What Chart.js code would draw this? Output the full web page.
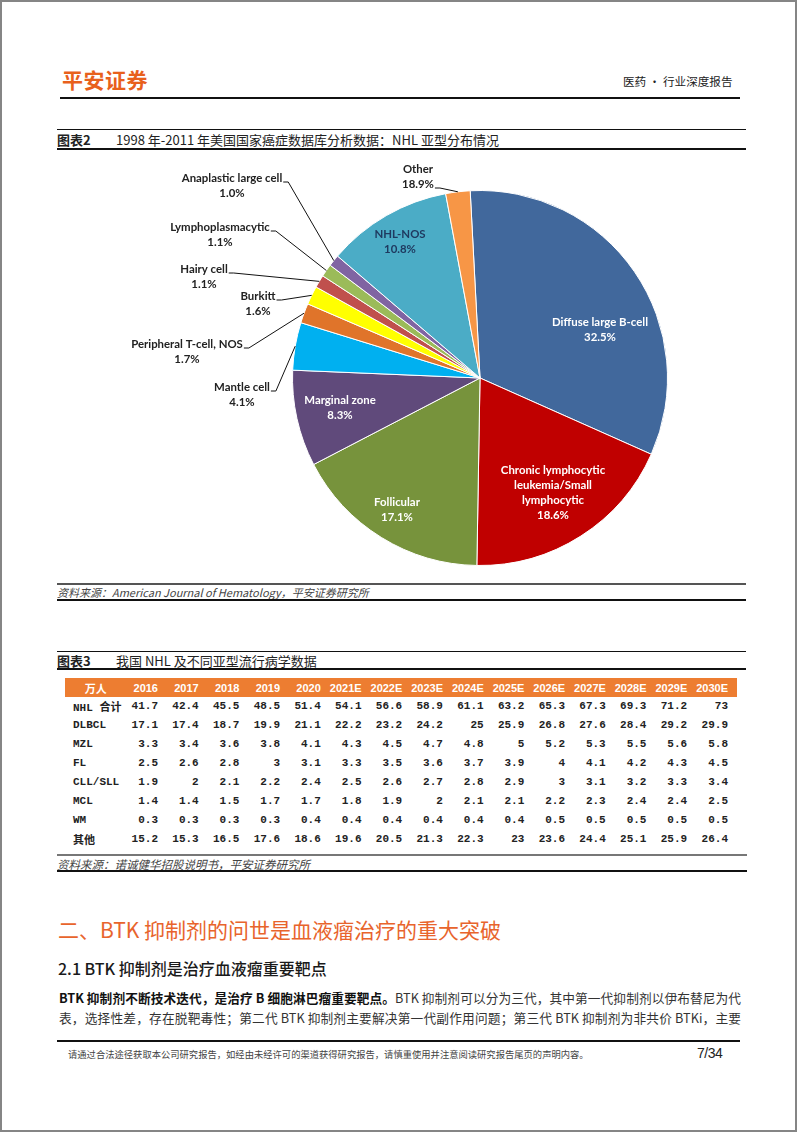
<!DOCTYPE html>
<html lang="zh-CN">
<head>
	<meta charset="utf-8">
	<title>医药·行业深度报告</title>
	<script src="https://cdn.jsdelivr.net/npm/chart.js@4.4.0/dist/chart.umd.min.js"></script>
	<style type="text/css">
		body { margin: 0; background: #fff; font-family: "Noto Sans CJK SC", "Noto Sans", sans-serif; color: #222; }
		.page { position: relative; width: 802px; height: 1133px; overflow: hidden; }
		.abs { position: absolute; white-space: nowrap; }
		.frame { left: 0; top: 0; width: 797px; height: 1132px; border: 2px solid #858585; box-sizing: border-box; }
		.rule { position: absolute; background: #111; }
		.logo { left: 62px; top: 64px; font-size: 21px; line-height: 30px; font-weight: 700; color: #e8601c; letter-spacing: 0.5px; }
		.doc-type { left: 623px; top: 72px; font-size: 11.6px; line-height: 18px; }
		.fig-title { left: 57px; font-size: 13px; line-height: 18px; }
		.fig-title b { display: inline-block; width: 59px; font-weight: 700; }
		.source { left: 57px; font-size: 11px; line-height: 16px; font-style: italic; color: #444; }
		#chart-box { position: absolute; left: 57px; top: 152px; width: 688px; height: 428px; }
		table.nhl { position: absolute; left: 65px; top: 678px; width: 672px; border-collapse: collapse; table-layout: fixed; }
		table.nhl th { background: #ed7d31; color: #fff; font: bold 11px "Liberation Sans", sans-serif; height: 19px; padding: 0 9px 0 0; text-align: right; white-space: nowrap; }
		table.nhl th:first-child { text-align: center; padding: 0; font-family: "Noto Sans CJK SC", sans-serif; }
		table.nhl td { font: bold 11px "Liberation Mono", "Noto Sans CJK SC", monospace; color: #222; height: 18.9px; padding: 0 9px 0 0; text-align: right; white-space: nowrap; }
		table.nhl td:first-child { text-align: left; padding-left: 8px; }
		.h1 { left: 58px; top: 913px; font-size: 21px; line-height: 32px; color: #e8642c; }
		.h2 { left: 58px; top: 956px; font-size: 16px; line-height: 24px; font-weight: 500; color: #1a1a1a; }
		.para { left: 59px; width: 682px; font-size: 12.7px; line-height: 20px; text-align: justify; text-align-last: justify; white-space: normal; color: #333; }
		.para b { color: #111; }
		.foot { left: 68px; top: 1047px; font-size: 9.3px; line-height: 14px; color: #444; }
		.pageno { left: 697px; top: 1044px; font: 14px "Liberation Sans", sans-serif; line-height: 18px; letter-spacing: -0.5px; }
	</style>
</head>
<body>
<div class="page">
	<div class="abs frame"></div>

	<div class="abs logo">平安证券</div>
	<div class="abs doc-type">医药 · 行业深度报告</div>
	<div class="rule" style="left:60px; top:97px; width:680px; height:1.5px;"></div>

	<div class="rule" style="left:57px; top:129px; width:689px; height:1px;"></div>
	<div class="abs fig-title" style="top:131px;"><b>图表2</b>1998 年-2011 年美国国家癌症数据库分析数据：NHL 亚型分布情况</div>
	<div class="rule" style="left:57px; top:148px; width:689px; height:2px;"></div>

	<div id="chart-box"><canvas id="nhl-pie"></canvas></div>

	<div class="rule" style="left:57px; top:583px; width:689px; height:2px; background:#555;"></div>
	<div class="abs source" style="top:584px;">资料来源：American Journal of Hematology，平安证券研究所</div>
	<div class="rule" style="left:57px; top:599px; width:689px; height:1.5px;"></div>

	<div class="rule" style="left:57px; top:651px; width:689px; height:1px;"></div>
	<div class="abs fig-title" style="top:652px;"><b>图表3</b>我国 NHL 及不同亚型流行病学数据</div>
	<div class="rule" style="left:57px; top:668px; width:689px; height:2px;"></div>

	<table class="nhl" id="nhl-table"></table>

	<div class="rule" style="left:57px; top:854px; width:690px; height:2px; background:#777;"></div>
	<div class="abs source" style="top:856px; font-size:11.5px;">资料来源：诺诚健华招股说明书，平安证券研究所</div>
	<div class="rule" style="left:57px; top:870px; width:690px; height:1.5px;"></div>

	<div class="abs h1">二、BTK 抑制剂的问世是血液瘤治疗的重大突破</div>
	<div class="abs h2">2.1 BTK 抑制剂是治疗血液瘤重要靶点</div>
	<div class="abs para" style="top:988px;"><b>BTK 抑制剂不断技术迭代，是治疗 B 细胞淋巴瘤重要靶点。</b>BTK 抑制剂可以分为三代，其中第一代抑制剂以伊布替尼为代</div>
	<div class="abs para" style="top:1008px;">表，选择性差，存在脱靶毒性；第二代 BTK 抑制剂主要解决第一代副作用问题；第三代 BTK 抑制剂为非共价 BTKi，主要</div>

	<div class="rule" style="left:57px; top:1040px; width:683px; height:1.5px;"></div>
	<div class="abs foot">请通过合法途径获取本公司研究报告，如经由未经许可的渠道获得研究报告，请慎重使用并注意阅读研究报告尾页的声明内容。</div>
	<div class="abs pageno">7/34</div>
</div>

<script type="text/javascript">
	// 图表2 饼图数据 (Other 扇区按图中实际大小绘制, 标签仍写 18.9%)
	var subtypes = ["Diffuse large B-cell", "Chronic lymphocytic leukemia/Small lymphocytic", "Follicular", "Marginal zone", "Mantle cell",
		"Peripheral T-cell, NOS", "Burkitt", "Hairy cell", "Lymphoplasmacytic", "Anaplastic large cell", "NHL-NOS", "Other"];
	var shares = [32.5, 18.6, 17.1, 8.3, 4.1, 1.7, 1.6, 1.1, 1.1, 1.0, 10.8, 2.1];
	var shareLabels = ["32.5%", "18.6%", "17.1%", "8.3%", "4.1%", "1.7%", "1.6%", "1.1%", "1.1%", "1.0%", "10.8%", "18.9%"];
	var sliceColors = ["#41689c", "#c00000", "#77933c", "#604a7b", "#00b0f0", "#e0742a", "#ffff00", "#c0504d", "#9bbb59", "#8064a2", "#4bacc6", "#f79646"];

	// 图表3 表格数据
	var tableHead = "万人";
	var years = ["2016", "2017", "2018", "2019", "2020", "2021E", "2022E", "2023E", "2024E", "2025E", "2026E", "2027E", "2028E", "2029E", "2030E"];
	var rowNames = ["NHL 合计", "DLBCL", "MZL", "FL", "CLL/SLL", "MCL", "WM", "其他"];
	var nhlTotal = [41.7, 42.4, 45.5, 48.5, 51.4, 54.1, 56.6, 58.9, 61.1, 63.2, 65.3, 67.3, 69.3, 71.2, 73];
	var dlbcl = [17.1, 17.4, 18.7, 19.9, 21.1, 22.2, 23.2, 24.2, 25, 25.9, 26.8, 27.6, 28.4, 29.2, 29.9];
	var mzl = [3.3, 3.4, 3.6, 3.8, 4.1, 4.3, 4.5, 4.7, 4.8, 5, 5.2, 5.3, 5.5, 5.6, 5.8];
	var fl = [2.5, 2.6, 2.8, 3, 3.1, 3.3, 3.5, 3.6, 3.7, 3.9, 4, 4.1, 4.2, 4.3, 4.5];
	var cllSll = [1.9, 2, 2.1, 2.2, 2.4, 2.5, 2.6, 2.7, 2.8, 2.9, 3, 3.1, 3.2, 3.3, 3.4];
	var mcl = [1.4, 1.4, 1.5, 1.7, 1.7, 1.8, 1.9, 2, 2.1, 2.1, 2.2, 2.3, 2.4, 2.4, 2.5];
	var wm = [0.3, 0.3, 0.3, 0.3, 0.4, 0.4, 0.4, 0.4, 0.4, 0.4, 0.5, 0.5, 0.5, 0.5, 0.5];
	var others = [15.2, 15.3, 16.5, 17.6, 18.6, 19.6, 20.5, 21.3, 22.3, 23, 23.6, 24.4, 25.1, 25.9, 26.4];
	var tableRows = [nhlTotal, dlbcl, mzl, fl, cllSll, mcl, wm, others];

	// 表格
	function buildTable() {
		var html = "<colgroup><col style='width:61.3px'>";
		for (var i = 0; i < years.length; i++) html += "<col style='width:40.71px'>";
		html += "</colgroup><tr><th>" + tableHead + "</th>";
		for (var i = 0; i < years.length; i++) html += "<th>" + years[i] + "</th>";
		html += "</tr>";
		for (var r = 0; r < rowNames.length; r++) {
			html += "<tr><td>" + rowNames[r] + "</td>";
			for (var c = 0; c < tableRows[r].length; c++) {
				html += "<td>" + tableRows[r][c] + "</td>";
			}
			html += "</tr>";
		}
		document.getElementById("nhl-table").innerHTML = html;
	}

	// 扇区标签: 名称分行, 位置相对饼图圆心 (px)
	var labelLines = [
		["Diffuse large B-cell"], ["Chronic lymphocytic", "leukemia/Small", "lymphocytic"], ["Follicular"], ["Marginal zone"], ["Mantle cell"],
		["Peripheral T-cell, NOS"], ["Burkitt"], ["Hairy cell"], ["Lymphoplasmacytic"], ["Anaplastic large cell"], ["NHL-NOS"], ["Other"]
	];
	var labelPlace = [
		{dx: 120, dy: -56, color: "#fff"},
		{dx: 73, dy: 92, color: "#fff"},
		{dx: -83, dy: 124, color: "#fff"},
		{dx: -140, dy: 22, color: "#fff"},
		{dx: -238, dy: 9, color: "#222", leader: 0},
		{dx: -293, dy: -34, color: "#222", leader: 0},
		{dx: -222, dy: -82, color: "#222", leader: 0},
		{dx: -276, dy: -109, color: "#222", leader: 0},
		{dx: -260, dy: -151, color: "#222", leader: 0},
		{dx: -248, dy: -200, color: "#222", leader: 0},
		{dx: -80, dy: -144, color: "#1f3a60"},
		{dx: -62, dy: -209, color: "#222", leader: 1}
	];

	var pieLabelPlugin = {
		id: "pieLabels",
		afterDatasetsDraw: function(chart) {
			var ctx = chart.ctx;
			var arcs = chart.getDatasetMeta(0).data;
			ctx.save();
			ctx.font = "bold 11.4px Lato, 'Open Sans', sans-serif";
			ctx.textAlign = "center";
			ctx.textBaseline = "middle";
			for (var i = 0; i < arcs.length; i++) {
				var a = arcs[i].getProps(["x", "y", "startAngle", "endAngle", "outerRadius"], true);
				var p = labelPlace[i];
				var cx = a.x + p.dx, cy = a.y + p.dy;
				var lines = labelLines[i].concat([shareLabels[i]]);
				ctx.fillStyle = p.color;
				for (var k = 0; k < lines.length; k++) {
					ctx.fillText(lines[k], cx, cy + k * 15);
				}
				if (p.leader !== undefined) {
					var txt = lines[p.leader];
					var ly = cy + p.leader * 15 + 4;
					var lx = cx + ctx.measureText(txt).width / 2 + 1;
					var mid = (a.startAngle + a.endAngle) / 2;
					var ex = a.x + Math.cos(mid) * a.outerRadius;
					var ey = a.y + Math.sin(mid) * a.outerRadius;
					ctx.strokeStyle = "#111";
					ctx.lineWidth = 1;
					ctx.beginPath();
					ctx.moveTo(lx, ly);
					ctx.lineTo(lx + 5, ly);
					ctx.lineTo(ex, ey);
					ctx.stroke();
				}
			}
			ctx.restore();
		}
	};

	function drawPie() {
		var ctx = document.getElementById("nhl-pie").getContext("2d");
		new Chart(ctx, {
			type: "pie",
			data: {
				labels: subtypes,
				datasets: [{
					data: shares,
					backgroundColor: sliceColors,
					borderColor: "#fff",
					borderWidth: 1
				}]
			},
			options: {
				responsive: true,
				maintainAspectRatio: false,
				animation: false,
				rotation: -3,
				layout: { padding: { left: 235, right: 77, top: 38, bottom: 14 } },
				plugins: {
					legend: { display: false },
					tooltip: { enabled: false }
				}
			},
			plugins: [pieLabelPlugin]
		});
	}

	buildTable();
	drawPie();
</script>
</body>
</html>
